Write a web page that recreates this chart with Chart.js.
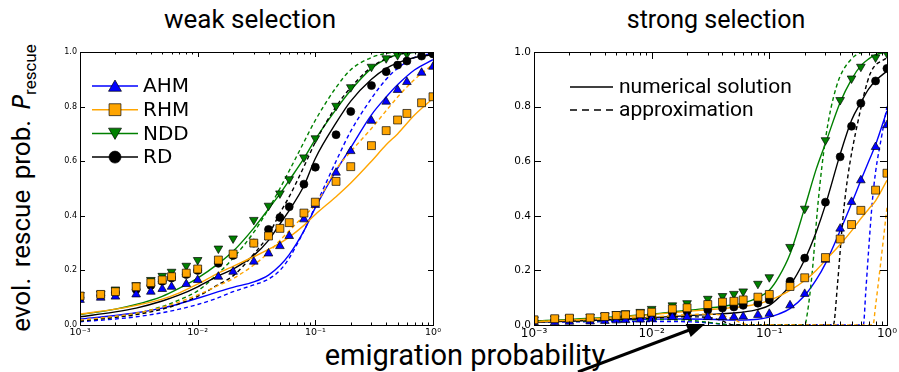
<!DOCTYPE html>
<html>
<head>
<meta charset="utf-8">
<script src="https://cdn.jsdelivr.net/npm/chart.js@4.4.1/dist/chart.umd.min.js"></script>
<style>
  body { margin: 0; width: 899px; height: 372px; background: #fff; position: relative; overflow: hidden; }
  canvas { position: absolute; }
  .txt { position: absolute; white-space: nowrap; color: #000; font-family: Roboto, sans-serif; }
</style>
</head>
<body>

<div class="txt" style="left:150px;top:7px;width:200px;text-align:center;font-size:26px;line-height:25px;">weak selection</div>
<div class="txt" style="left:616px;top:7px;width:200px;text-align:center;font-size:25px;line-height:25px;">strong selection</div>
<div class="txt" style="left:265px;top:341px;width:400px;text-align:center;font-size:29px;line-height:29px;">emigration probability</div>
<div class="txt" style="left:-159px;top:173px;width:360px;height:30px;text-align:center;font-size:26px;line-height:30px;transform:rotate(-90deg);word-spacing:4px;">evol. rescue prob. <i style="font-family:'DejaVu Sans';font-size:24px">P</i><span style="font-size:17px;position:relative;top:6px;">rescue</span></div>

<canvas id="weak" width="417" height="307" style="left:30px;top:40px;"></canvas>
<canvas id="strong" width="415" height="307" style="left:484px;top:40px;"></canvas>

<svg width="899" height="372" style="position:absolute;left:0;top:0;">
  <line x1="578" y1="372" x2="692" y2="329" stroke="#000" stroke-width="3"/>
  <polygon points="705,324 690.7,336.9 685.7,323.9" fill="#000"/>
</svg>

<script>
// emigration probabilities where the simulations were run
const markerX = [0.001, 0.0015, 0.002, 0.003, 0.004, 0.005, 0.006, 0.008, 0.01, 0.015, 0.02, 0.03, 0.04, 0.05, 0.06, 0.08, 0.1, 0.15, 0.2, 0.3, 0.4, 0.5, 0.6, 0.8, 1.0];

// weak selection, simulations
const weakAHM = [0.092, 0.1, 0.104, 0.112, 0.122, 0.132, 0.14, 0.15, 0.165, 0.177, 0.195, 0.232, 0.262, 0.289, 0.326, 0.387, 0.44, 0.558, 0.637, 0.748, 0.818, 0.861, 0.89, 0.924, 0.946];
const weakRHM = [0.106, 0.112, 0.122, 0.14, 0.155, 0.165, 0.177, 0.19, 0.205, 0.238, 0.26, 0.30, 0.326, 0.354, 0.375, 0.41, 0.45, 0.526, 0.58, 0.657, 0.712, 0.751, 0.775, 0.814, 0.836];
const weakNDD = [0.11, 0.115, 0.13, 0.146, 0.165, 0.18, 0.195, 0.217, 0.238, 0.28, 0.317, 0.385, 0.437, 0.482, 0.534, 0.614, 0.684, 0.803, 0.871, 0.946, 0.977, 0.989, 0.993, 0.998, 1.0];
const weakRD = [0.1, 0.108, 0.118, 0.13, 0.145, 0.16, 0.172, 0.185, 0.2, 0.226, 0.255, 0.30, 0.35, 0.394, 0.433, 0.516, 0.578, 0.697, 0.782, 0.877, 0.928, 0.952, 0.967, 0.985, 0.993];

// weak selection, curves
const weakLineX = [0.001, 0.002, 0.003, 0.005, 0.007, 0.01, 0.015, 0.02, 0.03, 0.04, 0.05, 0.06, 0.08, 0.1, 0.15, 0.2, 0.3, 0.4, 0.5, 0.7, 1.0];
const weakAHMNum = [0.022, 0.035, 0.045, 0.062, 0.078, 0.098, 0.122, 0.138, 0.158, 0.183, 0.218, 0.258, 0.345, 0.43, 0.565, 0.65, 0.77, 0.835, 0.88, 0.935, 0.972];
const weakAHMApprox = [0.012, 0.022, 0.03, 0.045, 0.058, 0.075, 0.1, 0.122, 0.147, 0.168, 0.2, 0.245, 0.345, 0.435, 0.6, 0.71, 0.83, 0.9, 0.94, 0.98, 0.995];
const weakRHMNum = [0.04, 0.058, 0.072, 0.095, 0.118, 0.15, 0.19, 0.215, 0.25, 0.277, 0.3, 0.322, 0.365, 0.405, 0.47, 0.52, 0.6, 0.66, 0.7, 0.77, 0.83];
const weakRHMApprox = [0.018, 0.032, 0.043, 0.065, 0.085, 0.11, 0.145, 0.17, 0.22, 0.265, 0.31, 0.345, 0.4, 0.44, 0.57, 0.635, 0.72, 0.785, 0.835, 0.9, 0.955];
const weakNDDNum = [0.038, 0.058, 0.075, 0.105, 0.135, 0.172, 0.225, 0.27, 0.355, 0.425, 0.48, 0.53, 0.61, 0.68, 0.79, 0.86, 0.94, 0.975, 0.99, 0.998, 1.0];
const weakNDDApprox = [0.015, 0.03, 0.042, 0.068, 0.092, 0.125, 0.19, 0.245, 0.34, 0.425, 0.5, 0.565, 0.67, 0.75, 0.87, 0.935, 0.98, 0.995, 1.0, 1.0, 1.0];
const weakRDNum = [0.03, 0.048, 0.062, 0.088, 0.11, 0.14, 0.18, 0.205, 0.255, 0.31, 0.37, 0.42, 0.51, 0.61, 0.74, 0.82, 0.9, 0.94, 0.96, 0.98, 0.99];
const weakRDApprox = [0.015, 0.028, 0.038, 0.058, 0.078, 0.105, 0.148, 0.18, 0.26, 0.33, 0.41, 0.47, 0.58, 0.67, 0.8, 0.87, 0.945, 0.975, 0.99, 1.0, 1.0];

// strong selection, simulations
const strongAHM = [0.01, 0.01, 0.012, 0.013, 0.015, 0.017, 0.018, 0.02, 0.023, 0.029, 0.029, 0.029, 0.029, 0.029, 0.031, 0.037, 0.041, 0.072, 0.114, 0.239, 0.353, 0.451, 0.53, 0.652, 0.732];
const strongRHM = [0.019, 0.023, 0.025, 0.026, 0.031, 0.035, 0.037, 0.041, 0.047, 0.059, 0.063, 0.075, 0.084, 0.087, 0.092, 0.102, 0.112, 0.141, 0.173, 0.247, 0.315, 0.368, 0.42, 0.494, 0.556];
const strongNDD = [0.02, 0.024, 0.027, 0.03, 0.035, 0.04, 0.043, 0.048, 0.059, 0.072, 0.08, 0.096, 0.106, 0.114, 0.123, 0.151, 0.175, 0.286, 0.426, 0.677, 0.824, 0.903, 0.946, 0.98, 0.995];
const strongRD = [0.015, 0.018, 0.02, 0.022, 0.025, 0.028, 0.03, 0.033, 0.037, 0.045, 0.05, 0.055, 0.062, 0.066, 0.072, 0.08, 0.092, 0.16, 0.245, 0.45, 0.616, 0.728, 0.812, 0.894, 0.94];

// strong selection, numerical curves
const strongLineX = [0.001, 0.002, 0.003, 0.005, 0.007, 0.01, 0.015, 0.02, 0.03, 0.04, 0.05, 0.06, 0.08, 0.1, 0.12, 0.15, 0.2, 0.25, 0.3, 0.4, 0.5, 0.6, 0.7, 0.8, 1.0];
const strongAHMNum = [0.012, 0.015, 0.017, 0.019, 0.02, 0.021, 0.022, 0.022, 0.021, 0.019, 0.018, 0.018, 0.021, 0.029, 0.04, 0.06, 0.108, 0.165, 0.225, 0.345, 0.445, 0.53, 0.6, 0.66, 0.785];
const strongRHMNum = [0.012, 0.018, 0.022, 0.028, 0.033, 0.038, 0.045, 0.05, 0.056, 0.06, 0.064, 0.068, 0.078, 0.09, 0.105, 0.127, 0.163, 0.2, 0.237, 0.295, 0.345, 0.39, 0.425, 0.455, 0.53];
const strongNDDNum = [0.015, 0.02, 0.025, 0.03, 0.035, 0.04, 0.048, 0.053, 0.062, 0.068, 0.074, 0.08, 0.1, 0.127, 0.175, 0.26, 0.43, 0.57, 0.665, 0.815, 0.9, 0.95, 0.975, 0.99, 1.0];
const strongRDNum = [0.01, 0.014, 0.017, 0.021, 0.024, 0.027, 0.031, 0.034, 0.038, 0.041, 0.044, 0.047, 0.057, 0.072, 0.1, 0.145, 0.24, 0.34, 0.44, 0.625, 0.75, 0.815, 0.865, 0.895, 0.93];

// strong selection, approximations (each on its own grid)
const strongAHMApproxX = [0.001, 0.003, 0.01, 0.02, 0.03, 0.04, 0.05, 0.63, 0.66, 0.7, 0.75, 0.8, 0.9, 1.0];
const strongAHMApprox = [0.01, 0.012, 0.013, 0.012, 0.008, 0.003, 0, 0, 0.12, 0.28, 0.45, 0.56, 0.69, 0.8];
const strongRHMApproxX = [0.001, 0.003, 0.01, 0.03, 0.04, 0.05, 0.06, 0.07, 0.76, 0.8, 0.875, 1.0];
const strongRHMApprox = [0.012, 0.02, 0.03, 0.04, 0.035, 0.02, 0.005, 0, 0, 0.07, 0.21, 0.43];
const strongNDDApproxX = [0.001, 0.003, 0.01, 0.02, 0.03, 0.04, 0.05, 0.2, 0.21, 0.23, 0.26, 0.3, 0.37, 0.5, 0.7, 1.0];
const strongNDDApprox = [0.012, 0.015, 0.02, 0.018, 0.01, 0.003, 0, 0, 0.04, 0.18, 0.45, 0.68, 0.87, 0.975, 1.0, 1.0];
const strongRDApproxX = [0.001, 0.003, 0.01, 0.02, 0.03, 0.04, 0.045, 0.05, 0.35, 0.38, 0.42, 0.46, 0.57, 0.72, 1.0];
const strongRDApprox = [0.012, 0.018, 0.025, 0.03, 0.028, 0.015, 0.005, 0, 0, 0.15, 0.38, 0.53, 0.75, 0.92, 0.98];

// axes
const xTickValues = [0.001, 0.01, 0.1, 1];
const xTickLabels = ['10⁻³', '10⁻²', '10⁻¹', '10⁰'];
const xMinorFactors = [2, 3, 4, 5, 6, 7, 8, 9];
const yTickValues = [0, 0.2, 0.4, 0.6, 0.8, 1.0];

const BLUE = '#0000ff', ORANGE = '#ffa500', GREEN = '#008000', BLACK = '#000000';
const markerStyle = {
  AHM: { color: BLUE, shape: 'triangle', r: 5, rot: 0 },
  RHM: { color: ORANGE, shape: 'rect', r: 5.6, rot: 0 },
  NDD: { color: GREEN, shape: 'triangle', r: 5, rot: 180 },
  RD:  { color: BLACK, shape: 'circle', r: 4, rot: 0 }
};

function pts(xs, ys){ return xs.map((x,i)=>({x:x, y:ys[i]})); }

function markers(label, xs, ys){
  let s = markerStyle[label];
  return {
    label: label, data: pts(xs, ys), showLine: false,
    pointStyle: s.shape, pointRadius: s.r, pointRotation: s.rot,
    pointBackgroundColor: s.color, pointBorderColor: 'rgba(0,0,0,0.85)', pointBorderWidth: 0.8
  };
}

function curve(color, xs, ys, dashed){
  return {
    data: pts(xs, ys), borderColor: color, borderWidth: 1.4, pointRadius: 0,
    borderDash: dashed ? [4, 3] : [], cubicInterpolationMode: 'monotone', fill: false
  };
}

function drawMarker(ctx, shape, r, rot, x, y){
  ctx.beginPath();
  if(shape === 'circle'){
    ctx.arc(x, y, r, 0, Math.PI*2);
  } else if(shape === 'rect'){
    let h = r*Math.SQRT1_2;
    ctx.rect(x-h, y-h, 2*h, 2*h);
  } else {
    let a = rot*Math.PI/180;
    for(let k=0;k<3;k++){
      let t = a + k*2*Math.PI/3;
      let px = x + Math.sin(t)*r, py = y - Math.cos(t)*r;
      k===0 ? ctx.moveTo(px,py) : ctx.lineTo(px,py);
    }
    ctx.closePath();
  }
  ctx.fill(); ctx.stroke();
}

// box frame with inward ticks, like the original figure
const frameTicks = {
  id: 'frameTicks',
  afterDraw(chart, args, opts){
    const ctx = chart.ctx, a = chart.chartArea, x = chart.scales.x, y = chart.scales.y;
    ctx.save();
    ctx.strokeStyle = '#000';
    ctx.lineWidth = 1;
    ctx.beginPath();
    xTickValues.forEach((v, i)=>{
      let px = Math.round(x.getPixelForValue(v)) + 0.5;
      ctx.moveTo(px, a.bottom); ctx.lineTo(px, a.bottom - opts.major);
      ctx.moveTo(px, a.top); ctx.lineTo(px, a.top + opts.major);
      if(i < xTickValues.length - 1){
        xMinorFactors.forEach(f=>{
          let mx = Math.round(x.getPixelForValue(v*f)) + 0.5;
          ctx.moveTo(mx, a.bottom); ctx.lineTo(mx, a.bottom - opts.minor);
          ctx.moveTo(mx, a.top); ctx.lineTo(mx, a.top + opts.minor);
        });
      }
    });
    yTickValues.forEach(v=>{
      let py = Math.round(y.getPixelForValue(v)) + 0.5;
      ctx.moveTo(a.left, py); ctx.lineTo(a.left + opts.major, py);
      ctx.moveTo(a.right, py); ctx.lineTo(a.right - opts.major, py);
    });
    ctx.stroke();
    ctx.strokeRect(Math.round(a.left)+0.5, Math.round(a.top)+0.5, Math.round(a.right-a.left), Math.round(a.bottom-a.top));
    ctx.restore();
  }
};

// hand drawn legend (line sample + marker)
const sketchLegend = {
  id: 'sketchLegend',
  afterDraw(chart, args, opts){
    if(!opts.items) return;
    const ctx = chart.ctx, a = chart.chartArea;
    ctx.save();
    opts.items.forEach((it, i)=>{
      let y = a.top + opts.top + i*opts.gap;
      let x0 = a.left + opts.left;
      ctx.strokeStyle = it.color; ctx.lineWidth = 1.5;
      ctx.setLineDash(it.dash || []);
      ctx.beginPath(); ctx.moveTo(x0, y); ctx.lineTo(x0 + opts.len, y); ctx.stroke();
      ctx.setLineDash([]);
      if(it.marker){
        let s = markerStyle[it.marker];
        ctx.fillStyle = s.color; ctx.strokeStyle = 'rgba(0,0,0,0.85)'; ctx.lineWidth = 0.8;
        drawMarker(ctx, s.shape, s.r*1.5, s.rot, x0 + opts.len/2, y + (s.shape==='triangle' ? (s.rot ? -1.5 : 1.5) : 0));
      }
      ctx.fillStyle = '#000';
      ctx.font = opts.font;
      ctx.textBaseline = 'middle';
      ctx.fillText(it.label, x0 + opts.len + opts.textGap, y + 1);
    });
    ctx.restore();
  }
};

function makeChart(id, datasets, xFontSize, yFontSize, padRight, tickLen, legend){
  return new Chart(document.getElementById(id), {
    type: 'line',
    data: { datasets: datasets },
    plugins: [frameTicks, sketchLegend],
    options: {
      responsive: false,
      animation: false,
      layout: { padding: { top: 12, right: padRight, left: 0, bottom: 0 } },
      plugins: {
        legend: { display: false },
        tooltip: { enabled: false },
        frameTicks: tickLen,
        sketchLegend: legend
      },
      scales: {
        x: {
          type: 'logarithmic', min: 0.001, max: 1,
          grid: { display: false, drawTicks: false }, border: { display: false },
          afterBuildTicks: s => { s.ticks = xTickValues.map(v => ({ value: v })); },
          afterFit: s => { s.height = 22; },
          ticks: { callback: (v, i) => xTickLabels[i], font: { family: 'DejaVu Sans', size: xFontSize }, color: '#000', autoSkip: false, maxRotation: 0, padding: 2 }
        },
        y: {
          min: 0, max: 1,
          grid: { display: false, drawTicks: false }, border: { display: false },
          afterBuildTicks: s => { s.ticks = yTickValues.map(v => ({ value: v })); },
          afterFit: s => { s.width = 50; },
          ticks: { callback: v => v.toFixed(1), font: { family: 'DejaVu Sans', size: yFontSize }, color: '#000', padding: 3 }
        }
      }
    }
  });
}

// WEAK SELECTION
makeChart('weak', [
  markers('RHM', markerX, weakRHM),
  markers('AHM', markerX, weakAHM),
  markers('RD', markerX, weakRD),
  markers('NDD', markerX, weakNDD),
  curve(ORANGE, weakLineX, weakRHMNum, false),
  curve(ORANGE, weakLineX, weakRHMApprox, true),
  curve(BLACK, weakLineX, weakRDNum, false),
  curve(BLACK, weakLineX, weakRDApprox, true),
  curve(GREEN, weakLineX, weakNDDNum, false),
  curve(GREEN, weakLineX, weakNDDApprox, true),
  curve(BLUE, weakLineX, weakAHMNum, false),
  curve(BLUE, weakLineX, weakAHMApprox, true)
], 9.5, 8, 14, { major: 5, minor: 2.5 }, {
  left: 12, top: 34, gap: 23.7, len: 46, textGap: 5, font: '20px "DejaVu Sans"',
  items: [
    { label: 'AHM', color: BLUE, marker: 'AHM' },
    { label: 'RHM', color: ORANGE, marker: 'RHM' },
    { label: 'NDD', color: GREEN, marker: 'NDD' },
    { label: 'RD', color: BLACK, marker: 'RD' }
  ]
});

// STRONG SELECTION
makeChart('strong', [
  markers('RHM', markerX, strongRHM),
  markers('AHM', markerX, strongAHM),
  markers('RD', markerX, strongRD),
  markers('NDD', markerX, strongNDD),
  curve(ORANGE, strongLineX, strongRHMNum, false),
  curve(ORANGE, strongRHMApproxX, strongRHMApprox, true),
  curve(BLACK, strongLineX, strongRDNum, false),
  curve(BLACK, strongRDApproxX, strongRDApprox, true),
  curve(GREEN, strongLineX, strongNDDNum, false),
  curve(GREEN, strongNDDApproxX, strongNDDApprox, true),
  curve(BLUE, strongLineX, strongAHMNum, false),
  curve(BLUE, strongAHMApproxX, strongAHMApprox, true)
], 12, 10.5, 12, { major: 7, minor: 3.5 }, {
  left: 36, top: 35, gap: 23, len: 43, textGap: 6, font: '21px Roboto',
  items: [
    { label: 'numerical solution', color: BLACK },
    { label: 'approximation', color: BLACK, dash: [7, 5] }
  ]
});
</script>
</body>
</html>
